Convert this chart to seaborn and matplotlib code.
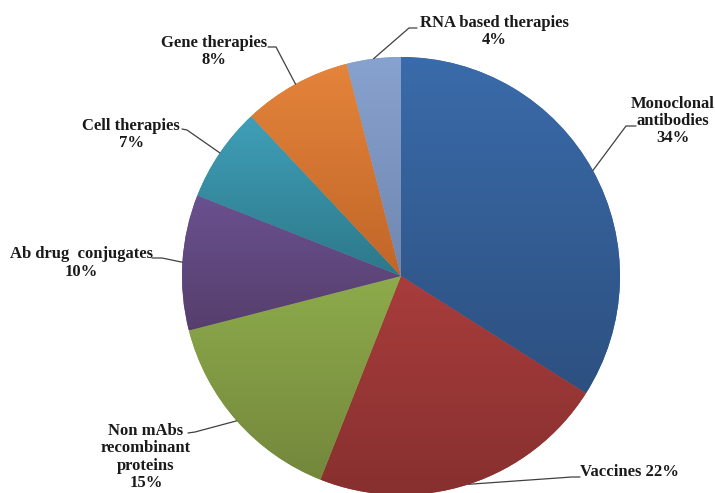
import numpy as np
import matplotlib
matplotlib.use("Agg")
import matplotlib.pyplot as plt
from matplotlib.colors import LinearSegmentedColormap
import seaborn as sns

# ---- data ----
categories = ["Monoclonal\nantibodies\n34%", "Vaccines 22%", "Non mAbs\nrecombinant\nproteins\n15%",
              "Ab drug  conjugates\n10%", "Cell therapies\n7%", "Gene therapies\n8%",
              "RNA based therapies\n4%"]
values = [34, 22, 15, 10, 7, 8, 4]

# ---- style ----
top_colors = ["#3a6baa", "#a83d3c", "#8dab4b", "#6a5190", "#3f9fb8", "#e5843b", "#88a2cf"]
bottom_colors = ["#2d5080", "#87302f", "#74873c", "#563e6c", "#2d7889", "#c06628", "#6f87b0"]

W, H = 715, 493
CX, CY, R = 401, 276, 219  # image pixel coordinates

# label block centres (image coords) and leader elbow/end points
label_pos = [(673, 121), (629, 472), (146, 457), (81, 263), (131, 134.5), (214, 51.5), (494, 31.5)]
elbows = [(626, 126), (572, 477), (195, 432), (162, 258), (187, 130), (276, 47), (409, 28)]
ends = [(636, 126), (580, 477), (188, 433), (152, 258), (182, 129), (268, 47), (417, 28)]

sns.set_theme(style="white")
plt.rcParams["font.family"] = ["Liberation Serif", "DejaVu Serif"]

fig = plt.figure(figsize=(W / 100, H / 100), dpi=100)
fig.patch.set_facecolor("white")
ax = fig.add_axes([0, 0, 1, 1])

wedges, _ = ax.pie(values, startangle=90, counterclock=False,
                   center=(CX, H - CY), radius=R, frame=True,
                   colors=top_colors, wedgeprops=dict(linewidth=0))

grad = np.linspace(1, 0, 256).reshape(-1, 1)
for w, ct, cb in zip(wedges, top_colors, bottom_colors):
    ext = w.get_path().get_extents()
    cmap = LinearSegmentedColormap.from_list("g", [cb, ct])
    im = ax.imshow(grad, extent=[ext.x0, ext.x1, ext.y0, ext.y1], cmap=cmap,
                   origin="upper", aspect="auto", interpolation="bilinear", zorder=1.5)
    im.set_clip_path(w)

total = float(sum(values))
cum = 0.0
for i, (lab, v) in enumerate(zip(categories, values)):
    mid = 90 - 360 * (cum + v / 2) / total
    cum += v
    sx = CX + R * np.cos(np.radians(mid))
    sy = H - (CY - R * np.sin(np.radians(mid)))
    ex, ey = elbows[i]
    tx, ty = ends[i]
    ax.plot([sx, ex, tx], [sy, H - ey, H - ty], color="#404040", lw=0.9, zorder=3,
            solid_joinstyle="miter")
    lx, ly = label_pos[i]
    ax.text(lx, H - ly, lab, ha="center", va="center", fontsize=12, fontweight="bold",
            color="#1a1a1a", linespacing=1.12, zorder=4)

ax.set_xlim(0, W)
ax.set_ylim(0, H)
ax.set_aspect("auto")
ax.axis("off")

fig.savefig("out.png", dpi=100, facecolor="white")
